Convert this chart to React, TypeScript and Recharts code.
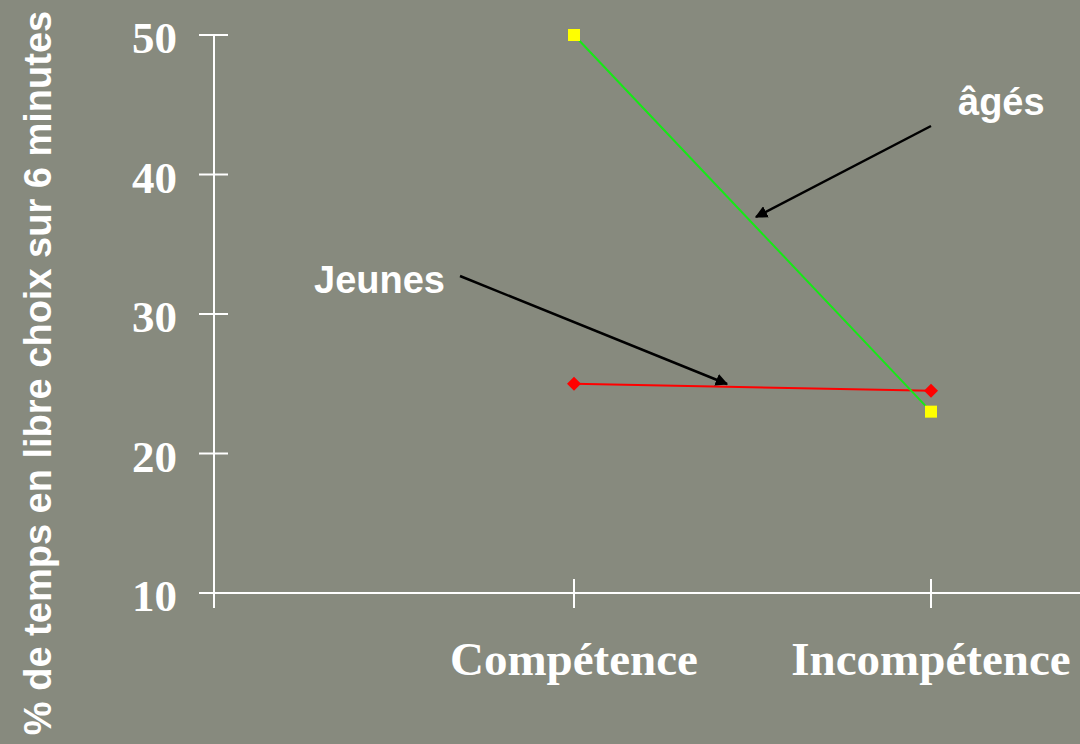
import { LineChart, Line, XAxis, YAxis } from 'recharts';

const categories = ['Compétence', 'Incompétence'];
const agesValues = [50, 23];
const jeunesValues = [25, 24.5];
const yTicks = [10, 20, 30, 40, 50];

const data = categories.map((name, i) => ({
    name,
    ages: agesValues[i],
    jeunes: jeunesValues[i],
}));

const BG = '#878a7e';
const serif = '"Liberation Serif", "Times New Roman", serif';
const sans = '"Liberation Sans", Arial, sans-serif';

function YTick({ x, y, payload }: any) {
    return (
        <g>
            <line x1={x - 15} x2={x + 14} y1={y} y2={y} stroke="#fff" strokeWidth={2} />
            {payload.value === 10 && <line x1={x} x2={x} y1={y} y2={y + 15} stroke="#fff" strokeWidth={2} />}
            <text x={x - 37} y={y + 18} textAnchor="end" fill="#fff" fontFamily={serif} fontWeight="bold" fontSize={45}>
                {payload.value}
            </text>
        </g>
    );
}

function XTick({ x, y, payload }: any) {
    return (
        <g>
            <line x1={x} x2={x} y1={y - 14} y2={y + 15} stroke="#fff" strokeWidth={2} />
            <text x={x} y={y + 82} textAnchor="middle" fill="#fff" fontFamily={serif} fontWeight="bold" fontSize={47}>
                {payload.value}
            </text>
        </g>
    );
}

function Square({ cx, cy }: any) {
    return <rect x={cx - 6} y={cy - 6} width={12} height={12} fill="#ffff00" />;
}

function Diamond({ cx, cy }: any) {
    return <polygon points={`${cx},${cy - 7} ${cx + 7},${cy} ${cx},${cy + 7} ${cx - 7},${cy}`} fill="#ff0000" />;
}

export default function App() {
    return (
        <div style={{ position: 'absolute', left: 0, top: 0, width: 1080, height: 744, background: BG, overflow: 'hidden' }}>
            <LineChart width={1080} height={744} data={data} margin={{ top: 35, right: 0, bottom: 0, left: 0 }}>
                <XAxis
                    dataKey="name"
                    height={151}
                    padding={{ left: 360, right: 149 }}
                    axisLine={{ stroke: '#fff', strokeWidth: 2 }}
                    tickLine={false}
                    tickSize={0}
                    tickMargin={0}
                    tick={<XTick />}
                    interval={0}
                />
                <YAxis
                    width={214}
                    domain={[10, 50]}
                    ticks={yTicks}
                    axisLine={{ stroke: '#fff', strokeWidth: 2 }}
                    tickLine={false}
                    tickSize={0}
                    tickMargin={0}
                    tick={<YTick />}
                    interval={0}
                />
                <Line dataKey="jeunes" stroke="#ff0000" strokeWidth={2} dot={<Diamond />} isAnimationActive={false} />
                <Line dataKey="ages" stroke="#16e816" strokeWidth={2} dot={<Square />} isAnimationActive={false} />
            </LineChart>
            <svg width={1080} height={744} style={{ position: 'absolute', left: 0, top: 0, pointerEvents: 'none' }}>
                <defs>
                    <marker id="arrow" viewBox="0 0 10 10" refX="9" refY="5" markerWidth="5" markerHeight="5" orient="auto">
                        <path d="M0,0 L10,5 L0,10 z" fill="#000" />
                    </marker>
                </defs>
                <text
                    transform="translate(51,373) rotate(-90)"
                    textAnchor="middle"
                    fill="#fff"
                    fontFamily={sans}
                    fontWeight="bold"
                    fontSize={38}
                >
                    % de temps en libre choix sur 6 minutes
                </text>
                <text x={314} y={293} fill="#fff" fontFamily={sans} fontWeight="bold" fontSize={38}>Jeunes</text>
                <text x={958} y={115} fill="#fff" fontFamily={sans} fontWeight="bold" fontSize={38}>âgés</text>
                <line x1={460} y1={276} x2={727} y2={384} stroke="#000" strokeWidth={2.5} markerEnd="url(#arrow)" />
                <line x1={931} y1={126} x2={756} y2={217} stroke="#000" strokeWidth={2.5} markerEnd="url(#arrow)" />
            </svg>
        </div>
    );
}
